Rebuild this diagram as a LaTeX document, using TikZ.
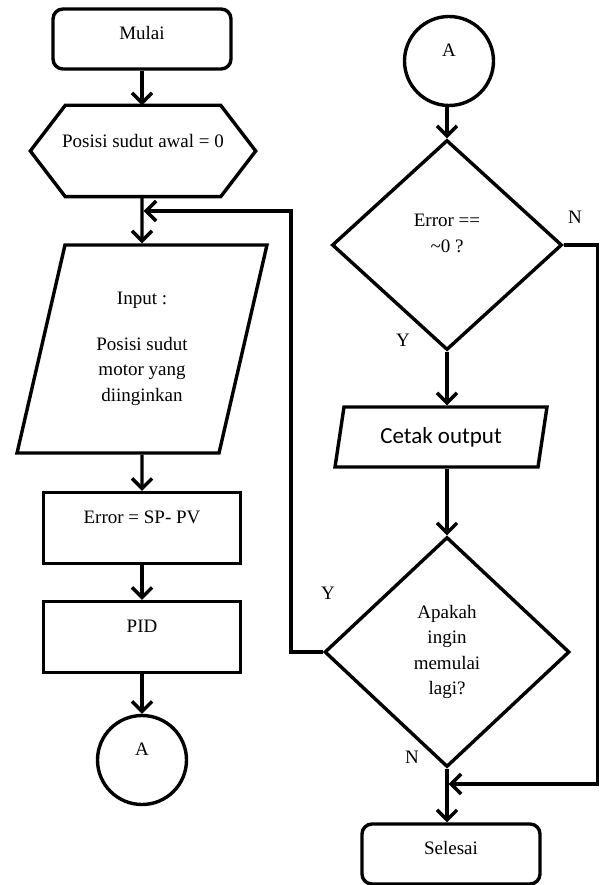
\documentclass[tikz,border=0pt]{standalone}
\usepackage{fontspec}
\setmainfont{Liberation Serif}
\newfontfamily\sansout{Carlito}
\usetikzlibrary{arrows.meta,shapes.geometric}

\begin{document}
\begin{tikzpicture}[
    x=1pt, y=-1pt,
    line width=3.4pt,
    every node/.style={font=\fontsize{19}{25.5}\selectfont},
    term/.style ={rectangle,rounded corners=10pt,draw,minimum width=178pt,
                  minimum height=60pt,text depth=12pt},
    hexa/.style ={rectangle,minimum width=222pt,minimum height=88pt,
                  text depth=21pt},
    proc/.style ={rectangle,draw,minimum width=197pt,minimum height=71pt,
                  text depth=21pt},
    io/.style   ={trapezium,trapezium stretches=true,draw,align=center},
    dec/.style  ={diamond,draw,inner sep=0pt,align=center},
    conn/.style ={circle,draw,minimum size=89pt,inner sep=0pt,
                  text depth=22pt},
    lbl/.style  ={inner sep=0pt},
    >={Straight Barb[length=10pt,width=20pt]},
    flow/.style ={->},
  ]
  \useasboundingbox (0,0) rectangle (602,885);

  % Left column
  \node[term] (start) at (142,39)  {Mulai};
  \node[hexa] (hex)   at (143,151) {Posisi sudut awal = 0};
  \draw (hex.west) -- ([xshift=35pt]hex.north west)
        -- ([xshift=-35pt]hex.north east) -- (hex.east)
        -- ([xshift=-35pt]hex.south east)
        -- ([xshift=35pt]hex.south west) -- cycle;
  \node[io,trapezium left angle=75.7,trapezium right angle=104.3,
        minimum width=250pt,minimum height=208pt] (inp) at (142,349)
        {Input :\\[20pt]Posisi sudut\\motor yang\\diinginkan};
  \node[proc] (err) at (142,528) {Error = SP- PV};
  \node[proc] (pid) at (142,637) {PID};
  \node[conn] (cA)  at (142,760) {A};

  % Right column
  \node[conn] (cB)  at (449,61)  {A};
  \node[dec,minimum width=230pt,minimum height=210pt,text depth=23pt]
        (d1) at (447,245) {Error ==\\\textasciitilde0 ?};
  \node[io,trapezium left angle=77.3,trapezium right angle=102.7,
        minimum width=212pt,minimum height=60pt,
        font=\sansout\fontsize{23}{28}\selectfont] (out) at (441,437)
        {Cetak output};
  \node[dec,minimum width=245pt,minimum height=230pt]
        (d2) at (447,652) {Apakah\\ingin\\memulai\\lagi?};
  \node[term] (sel) at (451,854) {Selesai};

  % Junctions
  \coordinate (j1) at (142,211);
  \coordinate (j2) at (447,784);

  % Main flow
  \draw[flow] (start.south) -- (start.south |- hex.north);
  \draw[flow] (hex.south -| j1) -- (inp.north);
  \draw[flow] (inp.south) -- (err.north);
  \draw[flow] (err.south) -- (pid.north);
  \draw[flow] (pid.south) -- (cA.north);
  \draw[flow] (cB.south -| d1.north) -- (d1.north);
  \draw[flow] (d1.south) -- (d1.south |- out.north);
  \draw[flow] (d1.south |- out.south) -- (d2.north);
  \draw[flow] (d2.south) -- (d2.south |- sel.north);

  % Loops
  \draw[flow,shorten >=1.7pt] (d2.west) -- ++(-32,0) |- (j1);
  \draw[flow,shorten >=1.7pt] (d1.east) -- ++(34,0) |- (j2);

  % Branch labels
  \node[lbl] (n1) at (575,217) {N};
  \node[lbl] (y1) at (403,340) {Y};
  \node[lbl] (y2) at (328,593) {Y};
  \node[lbl] (n2) at (412,757) {N};
\end{tikzpicture}
\end{document}
